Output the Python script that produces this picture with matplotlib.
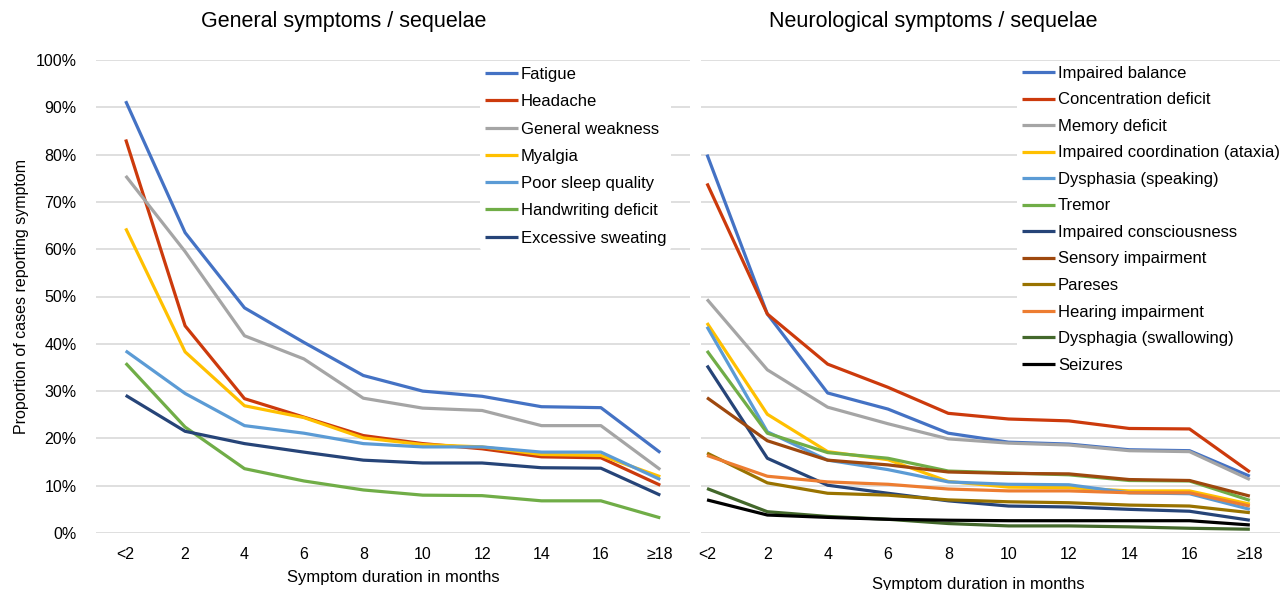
import matplotlib.pyplot as plt

plt.rcParams["font.family"] = ["Liberation Sans", "DejaVu Sans"]

# Symptom duration categories
months = ["<2", "2", "4", "6", "8", "10", "12", "14", "16", "≥18"]

# General symptoms (%)
fatigue = [91.3, 63.5, 47.6, 40.3, 33.3, 30.0, 28.9, 26.7, 26.5, 17.0]
headache = [83.2, 43.8, 28.4, 24.5, 20.6, 18.9, 17.8, 16.1, 15.9, 10.1]
weakness = [75.5, 59.5, 41.7, 36.8, 28.5, 26.4, 25.9, 22.7, 22.7, 13.4]
myalgia = [64.4, 38.3, 26.9, 24.4, 20.1, 18.7, 18.2, 16.6, 16.4, 11.9]
sleep = [38.5, 29.5, 22.7, 21.1, 18.9, 18.2, 18.2, 17.1, 17.1, 11.3]
handwriting = [35.9, 22.4, 13.6, 11.0, 9.1, 8.0, 7.9, 6.8, 6.8, 3.2]
sweating = [29.1, 21.5, 18.9, 17.1, 15.4, 14.8, 14.8, 13.8, 13.7, 8.0]

# Neurological symptoms (%)
balance = [80.0, 46.3, 29.6, 26.2, 21.1, 19.2, 18.8, 17.6, 17.4, 12.0]
concentration = [73.9, 46.3, 35.7, 30.8, 25.3, 24.1, 23.7, 22.1, 22.0, 12.9]
memory = [49.4, 34.5, 26.6, 23.1, 19.9, 19.0, 18.6, 17.4, 17.2, 11.3]
coordination = [44.4, 25.1, 17.2, 15.5, 10.9, 9.7, 9.6, 8.9, 8.9, 6.1]
dysphasia = [43.6, 21.4, 15.4, 13.4, 10.8, 10.3, 10.2, 8.5, 8.3, 5.0]
tremor = [38.5, 21.1, 17.0, 15.8, 13.1, 12.7, 12.3, 11.1, 11.0, 6.9]
consciousness = [35.4, 15.8, 10.1, 8.4, 6.8, 5.7, 5.5, 5.0, 4.6, 2.7]
sensory = [28.6, 19.5, 15.4, 14.4, 12.9, 12.6, 12.5, 11.3, 11.1, 7.8]
pareses = [16.9, 10.6, 8.4, 8.0, 7.0, 6.6, 6.4, 5.9, 5.7, 4.3]
hearing = [16.4, 12.0, 10.8, 10.3, 9.3, 8.9, 8.9, 8.5, 8.5, 5.7]
swallowing = [9.4, 4.5, 3.5, 2.9, 2.0, 1.5, 1.5, 1.3, 1.0, 0.8]
seizures = [7.0, 3.8, 3.3, 2.9, 2.7, 2.6, 2.6, 2.6, 2.6, 1.7]

general = [
    ("Fatigue", fatigue, "#4472C4"),
    ("Headache", headache, "#CC3A0C"),
    ("General weakness", weakness, "#A5A5A5"),
    ("Myalgia", myalgia, "#FFC000"),
    ("Poor sleep quality", sleep, "#5B9BD5"),
    ("Handwriting deficit", handwriting, "#70AD47"),
    ("Excessive sweating", sweating, "#264478"),
]
neuro = [
    ("Impaired balance", balance, "#4472C4"),
    ("Concentration deficit", concentration, "#CC3A0C"),
    ("Memory deficit", memory, "#A5A5A5"),
    ("Impaired coordination (ataxia)", coordination, "#FFC000"),
    ("Dysphasia (speaking)", dysphasia, "#5B9BD5"),
    ("Tremor", tremor, "#70AD47"),
    ("Impaired consciousness", consciousness, "#264478"),
    ("Sensory impairment", sensory, "#9E480E"),
    ("Pareses", pareses, "#997300"),
    ("Hearing impairment", hearing, "#ED7D31"),
    ("Dysphagia (swallowing)", swallowing, "#43682B"),
    ("Seizures", seizures, "#000000"),
]

fig = plt.figure(figsize=(12.8, 5.9), dpi=100)
ax1 = fig.add_axes([96 / 1280, 57 / 590, 594 / 1280, 473 / 590])
ax2 = fig.add_axes([701 / 1280, 57 / 590, 579 / 1280, 473 / 590])

x = list(range(len(months)))


def style_axis(ax, xlim):
    ax.set_xlim(xlim)
    ax.set_ylim(0, 100)
    ax.set_yticks(range(0, 101, 10))
    ax.set_xticks(x)
    ax.set_xticklabels(months, fontsize=11.5)
    ax.grid(axis="y", color="#D9D9D9", linewidth=1.2)
    ax.set_axisbelow(True)
    for s in ax.spines.values():
        s.set_visible(False)
    ax.tick_params(length=0, pad=10)


def add_legend(ax, x0, y0, spacing):
    ax.legend(loc="upper left", bbox_to_anchor=(x0 / 1280, 1 - y0 / 590),
              bbox_transform=fig.transFigure, fontsize=12, frameon=True,
              facecolor="white", edgecolor="none", framealpha=1,
              handlelength=2.0, handletextpad=0.15, labelspacing=spacing,
              borderpad=0.3, borderaxespad=0)


for name, vals, col in general:
    ax1.plot(x, vals, color=col, linewidth=2.3, label=name, solid_capstyle="butt")
style_axis(ax1, (-0.5, 9.5))
ax1.set_yticklabels([f"{v}%" for v in range(0, 101, 10)], fontsize=11.5)
ax1.tick_params(axis="y", pad=14)
ax1.set_ylabel("Proportion of cases reporting symptom", fontsize=11.5, labelpad=5)
ax1.set_xlabel("Symptom duration in months", fontsize=12, labelpad=6)
add_legend(ax1, 480, 62, 0.735)

for name, vals, col in neuro:
    ax2.plot(x, vals, color=col, linewidth=2.3, label=name, solid_capstyle="butt")
style_axis(ax2, (-0.1, 9.5))
ax2.set_yticklabels([])
ax2.set_xlabel("Symptom duration in months", fontsize=12)
ax2.xaxis.set_label_coords((978 - 701) / 579, -0.092)
add_legend(ax2, 1017, 61, 0.69)

fig.text(344 / 1280, 1 - 22 / 590, "General symptoms / sequelae",
         ha="center", va="center", fontsize=15.5)
fig.text(933 / 1280, 1 - 22 / 590, "Neurological symptoms / sequelae",
         ha="center", va="center", fontsize=15.5)

fig.savefig("out.png", dpi=100)
